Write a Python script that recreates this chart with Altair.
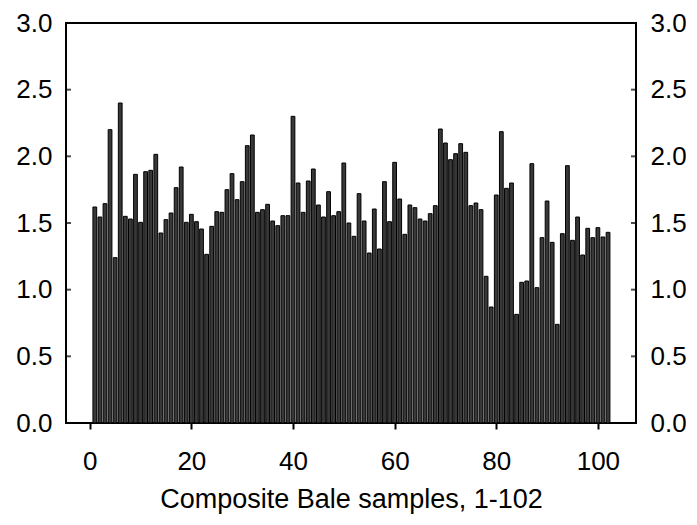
import altair as alt
import pandas as pd

samples = list(range(1, 103))
values = [
    1.62, 1.545, 1.645, 2.20, 1.24, 2.40, 1.55, 1.53, 1.865, 1.505,
    1.885, 1.895, 2.015, 1.425, 1.525, 1.575, 1.765, 1.92, 1.505, 1.565,
    1.51, 1.455, 1.265, 1.475, 1.585, 1.58, 1.75, 1.87, 1.675, 1.81,
    2.08, 2.16, 1.58, 1.60, 1.64, 1.515, 1.48, 1.555, 1.555, 2.30,
    1.80, 1.58, 1.815, 1.905, 1.635, 1.545, 1.735, 1.555, 1.585, 1.95,
    1.50, 1.40, 1.72, 1.515, 1.275, 1.605, 1.305, 1.81, 1.51, 1.955,
    1.68, 1.415, 1.635, 1.615, 1.53, 1.515, 1.57, 1.63, 2.205, 2.10,
    1.975, 2.02, 2.095, 2.03, 1.63, 1.65, 1.60, 1.10, 0.87, 1.71,
    2.185, 1.76, 1.80, 0.815, 1.055, 1.065, 1.945, 1.015, 1.39, 1.665,
    1.355, 0.74, 1.42, 1.93, 1.37, 1.545, 1.26, 1.46, 1.39, 1.465,
    1.395, 1.43,
]
x_ticks = [0, 20, 40, 60, 80, 100]
y_ticks = [0.0, 0.5, 1.0, 1.5, 2.0, 2.5, 3.0]

FONT = "Liberation Sans"
W, H = 570, 400

df = pd.DataFrame({"sample": samples, "value": values})
ticks_df = pd.DataFrame({"t": y_ticks})

xscale = alt.Scale(domain=[-4.67, 107.5], nice=False, zero=False)
yscale = alt.Scale(domain=[0, 3], nice=False, zero=False)

bars = alt.Chart(df).transform_calculate(
    x0="datum.sample - 0.37", x1="datum.sample + 0.37", base="0"
).mark_bar(fill="#383838", stroke="black", strokeWidth=1.0).encode(
    x=alt.X("x0:Q", scale=xscale,
            axis=alt.Axis(values=x_ticks, title="Composite Bale samples, 1-102",
                          format="d", grid=False, domain=False,
                          tickSize=6, tickWidth=2, tickColor="black",
                          labelPadding=19, labelFontSize=26, labelFont=FONT,
                          labelColor="black", titleFont=FONT, titleFontSize=27,
                          titleFontWeight="normal", titleColor="black",
                          titlePadding=12)),
    x2="x1:Q",
    y=alt.Y("value:Q", scale=yscale,
            axis=alt.Axis(values=y_ticks, format=".1f", title=None, grid=False,
                          domain=False, ticks=False, labelPadding=14,
                          labelFontSize=26, labelFont=FONT, labelColor="black",
                          orient="left")),
    y2="base:Q",
)

left_ticks = alt.Chart(ticks_df).mark_tick(
    orient="horizontal", color="black", size=5, thickness=2
).encode(
    y=alt.Y("t:Q", scale=yscale, axis=None),
    x=alt.value(2.5),
)

right_ticks = alt.Chart(ticks_df).mark_tick(
    orient="horizontal", color="black", size=5, thickness=2
).encode(
    y=alt.Y("t:Q", scale=yscale,
            axis=alt.Axis(values=y_ticks, format=".1f", title=None, grid=False,
                          domain=False, ticks=False, labelPadding=14,
                          labelFontSize=26, labelFont=FONT, labelColor="black",
                          orient="right")),
    x=alt.value(W - 2.5),
)

chart = alt.layer(bars, left_ticks, right_ticks).resolve_axis(
    y="independent"
).properties(
    width=W, height=H,
    background="white",
    autosize=alt.AutoSizeParams(type="none"),
    padding={"left": 58, "top": 15, "right": 50, "bottom": 93},
).configure_view(
    stroke="black", strokeWidth=2
)

chart.save("out.html", embed_options={"renderer": "svg", "actions": False})
